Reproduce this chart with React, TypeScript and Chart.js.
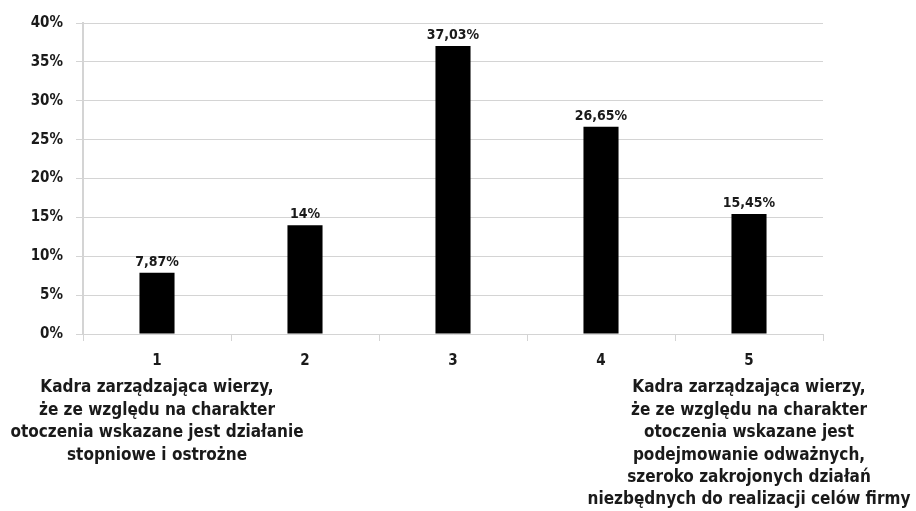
import React, { useEffect, useRef } from "react";
import { Chart, registerables } from "chart.js";

Chart.register(...registerables);

const categories = ["1", "2", "3", "4", "5"];
const shares = [7.87, 14, 37.03, 26.65, 15.45];
const yTicks = [0, 5, 10, 15, 20, 25, 30, 35, 40];
const leftNote = [
  "Kadra zarządzająca wierzy,",
  "że ze względu na charakter",
  "otoczenia wskazane jest działanie",
  "stopniowe i ostrożne",
];
const rightNote = [
  "Kadra zarządzająca wierzy,",
  "że ze względu na charakter",
  "otoczenia wskazane jest",
  "podejmowanie odważnych,",
  "szeroko zakrojonych działań",
  "niezbędnych do realizacji celów firmy",
];

const FONT = "'DejaVu Sans Condensed', 'DejaVu Sans', sans-serif";
const fmt = (v: number) => String(v).replace(".", ",") + "%";

const annotations = {
  id: "annotations",
  afterDatasetsDraw(chart: any) {
    const { ctx } = chart;
    const meta = chart.getDatasetMeta(0);
    ctx.save();
    ctx.fillStyle = "#1a1a1a";
    ctx.font = `bold 14px ${FONT}`;
    ctx.textAlign = "center";
    ctx.textBaseline = "alphabetic";
    meta.data.forEach((bar: any, i: number) => {
      ctx.fillText(fmt(shares[i]), bar.x, bar.y - 7);
    });

    const xs = chart.scales.x;
    ctx.font = `bold 17px ${FONT}`;
    ctx.textBaseline = "middle";
    const top = xs.top + 54;
    const lh = 22.4;
    const drawNote = (lines: string[], idx: number) => {
      const x = xs.getPixelForValue(idx);
      lines.forEach((l, k) => ctx.fillText(l, x, top + k * lh));
    };
    drawNote(leftNote, 0);
    drawNote(rightNote, 4);
    ctx.restore();
  },
};

export default function App() {
  const ref = useRef<HTMLCanvasElement>(null);
  useEffect(() => {
    document.body.style.margin = "0";
    const chart = new Chart(ref.current!, {
      type: "bar",
      data: {
        labels: categories,
        datasets: [
          {
            data: shares,
            backgroundColor: "#000000",
            categoryPercentage: 1,
            barPercentage: 0.237,
          },
        ],
      },
      options: {
        responsive: false,
        animation: false,
        layout: { padding: { top: 23, right: 93, left: 0, bottom: 0 } },
        plugins: { legend: { display: false }, tooltip: { enabled: false } },
        scales: {
          x: {
            grid: {
              display: true,
              drawOnChartArea: false,
              drawTicks: true,
              tickLength: 7,
              color: "#d4d4d4",
              offset: true,
            },
            border: { color: "#d4d4d4", width: 1 },
            ticks: {
              color: "#1a1a1a",
              font: { family: FONT, size: 15, weight: "bold" },
              padding: 11,
              maxRotation: 0,
            },
            afterFit(scale: any) {
              scale.height = 177;
            },
          },
          y: {
            min: 0,
            max: 40,
            afterBuildTicks(scale: any) {
              scale.ticks = yTicks.map((v) => ({ value: v }));
            },
            grid: { color: "#d4d4d4", tickLength: 7, lineWidth: 1 },
            border: { color: "#d4d4d4", width: 2 },
            ticks: {
              color: "#1a1a1a",
              font: { family: FONT, size: 15, weight: "bold" },
              padding: 13,
              callback: (v: any) => v + "%",
            },
            afterFit(scale: any) {
              scale.width = 83;
            },
          },
        },
      },
      plugins: [annotations],
    });
    return () => chart.destroy();
  }, []);
  return <canvas ref={ref} width={916} height={511} />;
}
